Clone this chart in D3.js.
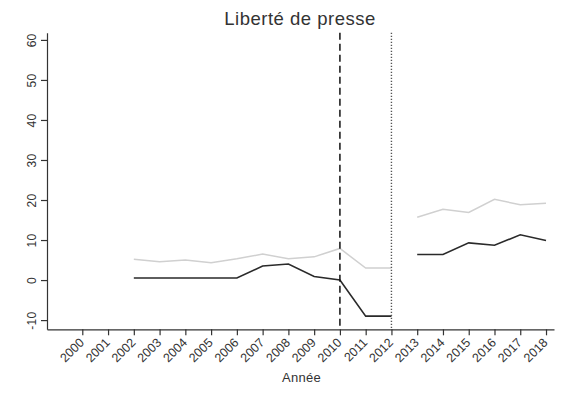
<!DOCTYPE html>
<html>
<head>
<meta charset="utf-8">
<script src="https://cdn.jsdelivr.net/npm/d3@7"></script>
<style>
  body { margin: 0; background: #fff; }
  text { font-family: "Liberation Sans", Arial, sans-serif; fill: #333; }
</style>
</head>
<body>
<script>
// data
const years = d3.range(2000, 2019);
const lineYears = [2002, 2003, 2004, 2005, 2006, 2007, 2008, 2009, 2010, 2011, 2012,
                   2013, 2014, 2015, 2016, 2017, 2018];
const blackValues = [0.5, 0.5, 0.5, 0.5, 0.5, 3.5, 4.0, 0.9, 0, -9.0, -9.0,
                     6.4, 6.4, 9.3, 8.7, 11.3, 9.9];
const grayValues = [5.2, 4.6, 5.0, 4.3, 5.3, 6.5, 5.3, 5.8, 7.9, 3.0, 3.0,
                    15.7, 17.7, 16.9, 20.2, 18.8, 19.2];
const breakAfter = 2012;      // series are not joined across this year
const yTicks = [-10, 0, 10, 20, 30, 40, 50, 60];
const dashedYear = 2010;
const dottedYear = 2012;

const width = 565, height = 395;
const svg = d3.select('body').append('svg')
  .attr('width', width)
  .attr('height', height);

const x = d3.scaleLinear().domain([1998.63, 2018.31]).range([47, 554]);
const y = d3.scaleLinear().domain([-12.3, 61.8]).range([329.3, 32.7]);

// title
svg.append('text')
  .attr('x', 300).attr('y', 25)
  .attr('text-anchor', 'middle')
  .style('font-size', '18.5px')
  .style('letter-spacing', '0.5px')
  .text('Liberté de presse');

// y axis
const yAxis = svg.append('g')
  .attr('transform', 'translate(47,0)')
  .call(d3.axisLeft(y).tickValues(yTicks).tickSize(6).tickSizeOuter(0));
yAxis.select('.domain').attr('stroke', '#333').attr('stroke-width', 1.2);
yAxis.selectAll('.tick line').attr('stroke', '#333').attr('stroke-width', 1.2);
yAxis.selectAll('.tick text').remove();
yAxis.selectAll('.tick').append('text')
  .attr('text-anchor', 'middle')
  .attr('transform', 'translate(-11,0) rotate(-90)')
  .style('font-size', '12px')
  .style('letter-spacing', '0.3px')
  .text(d => d);

// x axis, labels slanted at 45 degrees
const xAxis = svg.append('g')
  .attr('transform', 'translate(0,329.3)')
  .call(d3.axisBottom(x).tickValues(years).tickSize(6).tickSizeOuter(0));
xAxis.select('.domain').attr('stroke', '#333').attr('stroke-width', 1.2);
xAxis.selectAll('.tick line').attr('stroke', '#333').attr('stroke-width', 1.2);
xAxis.selectAll('.tick text').remove();
xAxis.selectAll('.tick')
  .append('g')
  .attr('transform', 'translate(2,14) rotate(-45)')
  .append('text')
  .style('text-anchor', 'end')
  .style('font-size', '12.5px')
  .text(d => d);

svg.append('text')
  .attr('x', 301.5).attr('y', 382)
  .attr('text-anchor', 'middle')
  .style('font-size', '13px')
  .style('letter-spacing', '0.3px')
  .text('Année');

// lines, split into two segments at the break
const line = d3.line()
  .x(d => x(d.year))
  .y(d => y(d.value));

function segments(values) {
  const pts = lineYears.map((yr, i) => ({ year: yr, value: values[i] }));
  return [pts.filter(d => d.year <= breakAfter), pts.filter(d => d.year > breakAfter)];
}

svg.selectAll('path.gray')
  .data(segments(grayValues))
  .enter().append('path')
  .attr('class', 'gray')
  .attr('d', line)
  .attr('fill', 'none')
  .attr('stroke', '#d0d0d0')
  .attr('stroke-width', 1.5);

svg.selectAll('path.black')
  .data(segments(blackValues))
  .enter().append('path')
  .attr('class', 'black')
  .attr('d', line)
  .attr('fill', 'none')
  .attr('stroke', '#2a2a2a')
  .attr('stroke-width', 1.6);

// reference lines
svg.append('line')
  .attr('x1', x(dashedYear)).attr('x2', x(dashedYear))
  .attr('y1', 32.7).attr('y2', 329.3)
  .attr('stroke', '#111')
  .attr('stroke-width', 1.5)
  .attr('stroke-dasharray', '7,4');

svg.append('line')
  .attr('x1', x(dottedYear)).attr('x2', x(dottedYear))
  .attr('y1', 32.7).attr('y2', 329.3)
  .attr('stroke', '#555')
  .attr('stroke-width', 1.4)
  .attr('stroke-dasharray', '1.4,1.6');
</script>
</body>
</html>
